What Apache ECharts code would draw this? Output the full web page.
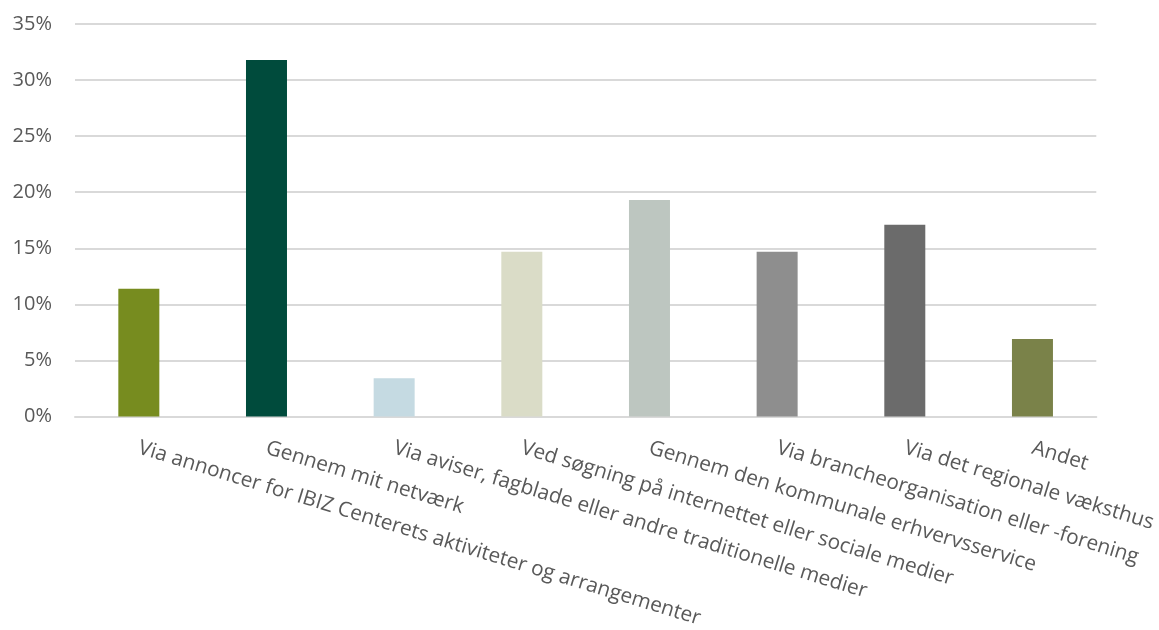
<!DOCTYPE html>
<html>
<head>
<meta charset="utf-8">
<style>
  html, body { margin: 0; padding: 0; background: #fff; }
  #chart { width: 1159px; height: 630px; }
</style>
<script src="https://cdn.jsdelivr.net/npm/echarts@6/dist/echarts.min.js"></script>
</head>
<body>
<div id="chart"></div>
<script>
// Hvordan har virksomheden hørt om IBIZ Centeret (andel af svar)
const categories = [
  'Via annoncer for IBIZ Centerets aktiviteter og arrangementer',
  'Gennem mit netværk',
  'Via aviser, fagblade eller andre traditionelle medier',
  'Ved søgning på internettet eller sociale medier',
  'Gennem den kommunale erhvervsservice',
  'Via brancheorganisation eller -forening',
  'Via det regionale væksthus',
  'Andet'
];
const shares = [11.4, 31.8, 3.4, 14.7, 19.3, 14.7, 17.1, 6.9];
const barColors = ['#778C1F', '#004B3C', '#C5DAE2', '#DADCC7', '#BDC6C0', '#8E8E8E', '#6B6B6B', '#7A8249'];
const yTicks = [0, 5, 10, 15, 20, 25, 30, 35];

const chart = echarts.init(document.getElementById('chart'), null, { renderer: 'canvas' });

chart.setOption({
  animation: false,
  backgroundColor: '#ffffff',
  textStyle: { fontFamily: 'Open Sans' },
  grid: { left: 75, right: 61, top: 24, bottom: 212, containLabel: false },
  xAxis: {
    type: 'category',
    data: categories,
    axisLine: { show: true, lineStyle: { color: '#D9D9D9', width: 2 } },
    axisTick: { show: false },
    axisLabel: {
      interval: 0,
      rotate: -17,
      margin: 31,
      color: '#595959',
      fontSize: 20.8,
      fontFamily: 'Open Sans'
    }
  },
  yAxis: {
    type: 'value',
    min: yTicks[0],
    max: yTicks[yTicks.length - 1],
    interval: 5,
    axisLine: { show: false },
    axisTick: { show: false },
    splitLine: { lineStyle: { color: '#D9D9D9', width: 2 } },
    axisLabel: {
      formatter: v => v + '%',
      color: '#595959',
      fontSize: 20,
      margin: 23,
      fontFamily: 'Open Sans'
    }
  },
  series: [{
    type: 'bar',
    barWidth: 41,
    data: shares.map((v, i) => ({ value: v, itemStyle: { color: barColors[i] } }))
  }]
});
</script>
</body>
</html>
